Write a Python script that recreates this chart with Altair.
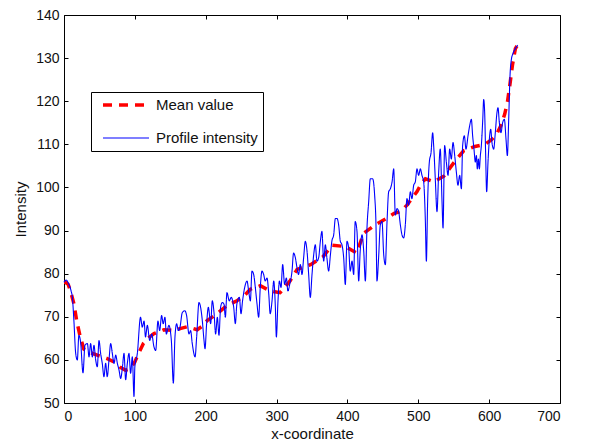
import altair as alt
import pandas as pd

profile_x = [0, 3, 7, 10, 11.8, 14, 16.5, 18.8, 21, 23.5, 26.8, 29.6, 33, 35.3, 37.6, 40, 42.3, 44.7, 47, 49.4,
             51.7, 54, 56.4, 58.8, 61, 63.5, 65.9, 68.2, 70.6, 73, 75.3, 77.6, 80, 82.3, 84.7, 87, 89.4, 91.7, 94, 96.4,
             98.8, 100, 103.5, 108, 110.5, 113, 115, 117.6, 121, 123.7, 127, 129.4, 132.6, 135, 137.8, 140, 142.5, 144.4, 148, 151.5,
             154.3, 156.6, 159, 161.3, 163.7, 167, 170.7, 173, 176.4, 178.7, 181, 185, 187.2, 190.5, 192.8, 195.2, 197.6, 199, 201.3, 203.7,
             207, 209.3, 211.7, 214, 216.4, 218.7, 221, 223.4, 225.8, 227.7, 230, 233.3, 236, 239.5, 241.8, 244, 247.5, 249.8, 252, 256,
             258.3, 260.6, 263, 265.3, 267.7, 270, 272.4, 274.7, 277, 279.4, 281.8, 284, 286.5, 289, 291, 293.6, 296, 298.3, 299.7, 302,
             304, 306.3, 308.6, 311.4, 313.8, 316, 318.5, 321.8, 324, 326.5, 328.8, 331, 333.5, 335.9, 338.2, 340.6, 343, 345.3, 347.6, 350,
             352.4, 354.7, 357, 359.4, 361.8, 364, 366.5, 368.8, 371, 373.5, 376, 378, 380.6, 383, 385.3, 387.6, 390, 392.3, 394.7, 397,
             399.4, 401.7, 404, 406.5, 408.8, 411, 413.5, 415.9, 418, 420.6, 423, 425.3, 427.6, 430, 432.3, 435.6, 438.4, 440.3, 441.7, 444,
             446.4, 448.8, 451.2, 453.5, 455.9, 458.2, 460.6, 463, 465.3, 467.6, 470, 472.3, 474.7, 477, 479.4, 481.7, 484, 486.4, 488.8, 491,
             493.5, 495.8, 498.2, 500.5, 502.9, 505.2, 507.6, 510, 511.4, 513.2, 515.6, 518, 520.3, 521.7, 524, 526.4, 528.8, 531, 533.5, 534.9,
             537.2, 539.6, 542, 544.3, 546.6, 549, 551.4, 553.7, 556, 558.4, 560.8, 562.6, 565, 567.3, 570.2, 572.5, 574.9, 576.7, 578.6, 580.5,
             582, 583.3, 584.8, 586.2, 587.6, 589, 591, 592.3, 593.7, 595, 596.5, 598.4, 600.3, 602.2, 604, 606.4, 608.7, 611, 612.5, 614.4,
             616.7, 619, 621.5, 623.8, 625.7, 627.6, 629.4, 631.3, 633.7, 637, 640.3]
profile_y = [78, 78.5, 77.5, 76, 74.5, 69, 61.5, 60, 65.7, 64, 57, 63.4, 63.8, 60.7, 63.8, 60.7, 63.4, 60, 58.4, 64.5,
             61.5, 59.2, 56.1, 59.2, 56.1, 60, 63.8, 61.5, 59.2, 61.1, 59.2, 57.7, 55.7, 58, 61.5, 55.4, 59.2, 61.5, 56.9, 60.7,
             51.5, 58.4, 61.5, 69.9, 67.6, 69, 65.3, 68, 64.5, 66, 63, 62.2, 69, 66.8, 70.3, 68.4, 69.9, 66, 68, 64.5,
             54.6, 65.3, 68.4, 66.8, 67.6, 71, 71.4, 70.3, 66, 66.8, 63.8, 60.7, 65.3, 73.3, 72.2, 69.1, 64.5, 62.6, 68.4, 72.2,
             68.4, 73.7, 71, 66, 69.9, 65.7, 72.2, 73.3, 72.9, 69.9, 75.6, 73.7, 74.5, 72.2, 68.4, 73, 74.5, 70.7, 73.7, 77.5,
             78.3, 76, 73.7, 80.6, 79.8, 76.8, 73, 69.9, 76.8, 80.6, 79.8, 78.3, 79, 75.2, 70.7, 73.7, 78.3, 72.2, 65.3, 73.7,
             78.3, 76.8, 82.1, 77.5, 79, 76, 77.5, 80.6, 84.8, 83.7, 81.4, 79.8, 82.1, 79.8, 83.7, 87.5, 85.2, 79.8, 74.5, 79.8,
             84.4, 86.7, 82.9, 83.7, 87.5, 89.8, 82.9, 86.7, 83.7, 80.6, 84.4, 87.5, 89, 92.8, 92.8, 91.3, 87.5, 86.7, 83.7, 77.5,
             87.5, 86, 80.6, 82.9, 79.8, 92.1, 89.8, 78.3, 85.2, 89, 85.2, 78.3, 90.6, 96.7, 102, 102, 98.2, 91.3, 78.3, 83.7,
             91.3, 92.1, 84.4, 82.1, 92.1, 99, 99.7, 101.3, 104.3, 93.6, 95.1, 94.4, 91.3, 89, 88.3, 91.3, 97.4, 95.9, 99, 97.4,
             100.5, 101.3, 104.3, 102.8, 104.3, 102.8, 101.3, 92.1, 82.9, 96.7, 105.9, 108.1, 112.7, 109.7, 102, 94.4, 103.6, 108.9, 96.7, 90.6,
             109.7, 105.9, 102.8, 108.9, 106.6, 110.4, 107.4, 103.6, 100.5, 102.8, 99.7, 109.7, 112, 108.9, 112, 114.3, 115.8, 112, 108.9, 105.9,
             107.4, 104.3, 106.6, 104.3, 107.4, 109.7, 115.8, 120.4, 117.3, 108.1, 99, 105.9, 111.2, 113.5, 110.4, 108.9, 112.7, 117.3, 118.5, 115,
             112.7, 115, 115.8, 111.2, 107.4, 115.8, 125.7, 129.6, 131.1, 132.2, 133]

mean_x = [0, 2, 6, 10, 14, 18, 23, 28, 33, 47, 61, 70, 80, 87, 94, 100, 103, 112, 120, 127,
          141, 155, 165, 174, 188, 195, 202, 216, 230, 244, 255, 263, 277, 291, 305, 319, 329, 338, 348, 366,
          378, 397, 413, 423, 439, 456, 466, 475, 484, 498, 505, 510, 522, 536, 550, 564, 580, 594, 603, 611,
          617, 622, 626, 629, 633, 637, 640]
mean_y = [78, 78, 77.5, 75.5, 73, 69, 65.3, 62.5, 61.9, 61.1, 60.3, 59.6, 58.2, 57.6, 58, 59.5, 60.7, 63.8, 65.2, 66.1,
          67, 66.8, 67.3, 67.7, 67, 67.8, 69.1, 70.7, 72.6, 73.7, 75, 76.4, 77.2, 76, 75.6, 78.3, 81, 81.5, 82.1, 84,
          86.6, 86.3, 84.8, 89.4, 91.3, 92.9, 94, 94.4, 95.9, 99, 101, 102, 101.3, 102.6, 105.7, 108.5, 109.5, 110, 111, 112.5,
          114.5, 117, 120, 123.5, 128.5, 132.2, 133]

series_names = ["Mean value", "Profile intensity"]
series_colors = ["#ff0000", "#0000ff"]
series_dash = [[9, 7], [1, 0]]
series_width = [3.5, 1.1]
x_ticks = [0, 100, 200, 300, 400, 500, 600, 700]
y_ticks = [50, 60, 70, 80, 90, 100, 110, 120, 130, 140]

mean_df = pd.DataFrame({"x": mean_x, "y": mean_y, "series": series_names[0]})
prof_df = pd.DataFrame({"x": profile_x, "y": profile_y, "series": series_names[1]})

x_scale = alt.Scale(domain=[0, 700], nice=False, zero=False)
y_scale = alt.Scale(domain=[50, 140], nice=False, zero=False)

color = alt.Color(
    "series:N", title=None,
    scale=alt.Scale(domain=series_names, range=series_colors),
    legend=alt.Legend(
        orient="none", legendX=27, legendY=77, symbolType="stroke", symbolSize=2116,
        clipHeight=16, rowPadding=17, padding=5, symbolOffset=5,
        labelFontSize=15, labelFont="Liberation Sans", labelColor="#111", labelOffset=5,
        strokeColor="#000", fillColor="white", labelLimit=300,
    ),
)
dash = alt.StrokeDash("series:N", title=None, scale=alt.Scale(domain=series_names, range=series_dash))
swidth = alt.StrokeWidth("series:N", title=None, scale=alt.Scale(domain=series_names, range=series_width))

common_axis = dict(domain=False, grid=False, offset=-4, tickSize=4, tickColor="#000", tickWidth=1)

mean_chart = alt.Chart(mean_df).mark_line(strokeCap="butt").encode(
    x=alt.X("x:Q", scale=x_scale,
            axis=alt.Axis(orient="bottom", values=x_ticks, title="x-coordinate", labelPadding=6,
                          titlePadding=3, **common_axis)),
    y=alt.Y("y:Q", scale=y_scale,
            axis=alt.Axis(orient="left", values=y_ticks, title="Intensity", labelPadding=5,
                          titlePadding=7, **common_axis)),
    color=color, strokeDash=dash, strokeWidth=swidth,
)

prof_chart = alt.Chart(prof_df).mark_line(interpolate="monotone").encode(
    x=alt.X("x:Q", scale=x_scale,
            axis=alt.Axis(orient="top", values=x_ticks, title=None, labels=False, **common_axis)),
    y=alt.Y("y:Q", scale=y_scale,
            axis=alt.Axis(orient="right", values=y_ticks, title=None, labels=False, **common_axis)),
    color=color, strokeDash=dash, strokeWidth=swidth,
)

chart = alt.layer(mean_chart, prof_chart).resolve_axis(
    x="independent", y="independent"
).properties(
    width=496, height=388,
    padding={"left": 5, "top": 0, "right": 5, "bottom": 0},
).configure_axis(
    labelFont="Liberation Sans", labelFontSize=14, labelColor="#111",
    titleFont="Liberation Sans", titleFontSize=15, titleFontWeight="normal", titleColor="#111",
).configure_view(stroke="#000", strokeWidth=1)

chart.save("out.html", embed_options={"renderer": "svg", "actions": False})
